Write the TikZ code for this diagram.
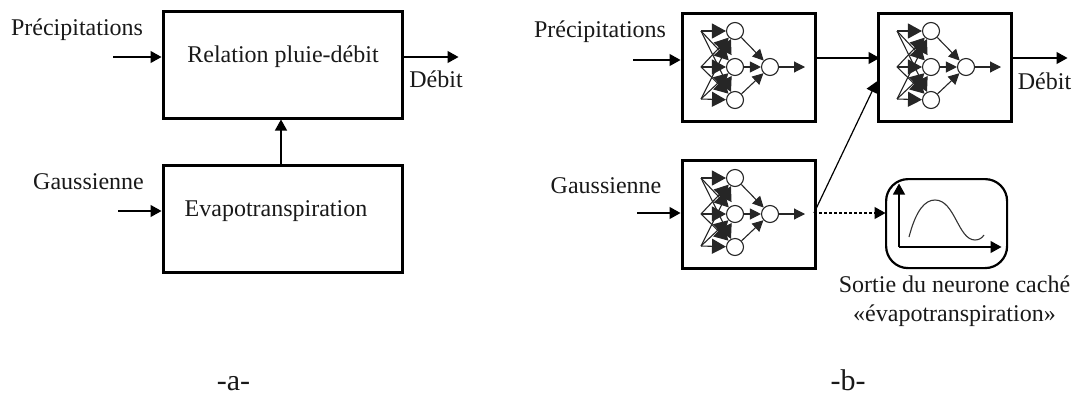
\documentclass[tikz,border=0pt]{standalone}
\usepackage{fontspec}
\setmainfont{Liberation Serif}
\usetikzlibrary{arrows.meta}
\tikzset{
  blk/.style={draw=black,line width=2.6pt,minimum width=#1,minimum height=107pt,inner sep=0pt,anchor=north west},
  lbl/.style={inner sep=0pt,font=\fontsize{24}{29}\selectfont,text=black!90,align=center},
  big/.style={inner sep=0pt,font=\fontsize{30}{34}\selectfont,text=black!90,anchor=base},
  conn/.style={line width=1.2pt,-{Triangle[length=11pt,width=12pt]},shorten >=0.5pt},
  netl/.style={line width=1.1pt,draw=black!85,-{Triangle[length=11pt,width=11pt]}},
  neti/.style={line width=1.1pt,draw=black!85,-{Triangle[length=14pt,width=15pt]}},
  neur/.style={circle,draw=black!85,line width=1.1pt,fill=white,minimum size=17pt,inner sep=0pt},
}
\newcommand{\neuralnet}[3]{% prefix, box left, box top
  \begin{scope}[shift={(#2,#3)}]
    \coordinate (#1i1) at (20,19);
    \coordinate (#1i2) at (20,55);
    \coordinate (#1i3) at (20,87);
    \node[neur] (#1h1) at (54,19) {};
    \node[neur] (#1h2) at (54,55) {};
    \node[neur] (#1h3) at (54,88) {};
    \node[neur] (#1o) at (89,55) {};
    \coordinate (#1t) at (124,55);
    \foreach \a in {1,2,3}{\foreach \b in {1,2,3}{\draw[neti] (#1i\a) -- (#1h\b);}}
    \foreach \b in {1,2,3}{\draw[netl] (#1h\b) -- (#1o);}
    \draw[netl] (#1o) -- (#1t);
  \end{scope}
}
\begin{document}
\begin{tikzpicture}[x=1pt,y=-1pt]
\useasboundingbox (0,0) rectangle (1075,394);
% panel a
\node[blk=239pt] (rel) at (162,10) {};
\node[blk=239pt] (eva) at (162,164) {};
\node[lbl] (relt) at (283,57) {Relation pluie-débit};
\node[lbl] (evat) at (276,211) {Evapotranspiration};
\node[lbl] (pa) at (77,30) {Précipitations};
\node[lbl] (ga) at (88.5,182) {Gaussienne};
\node[lbl] (da) at (436,79) {Débit};
\coordinate (pas) at (113,57);
\coordinate (pae) at (162,57);
\coordinate (gas) at (118,211);
\coordinate (gae) at (162,211);
\coordinate (das) at (401,57);
\coordinate (dae) at (459,57);
\coordinate (ups) at (281,164);
\coordinate (upe) at (281,119);
\draw[conn] (pas) -- (pae);
\draw[conn] (gas) -- (gae);
\draw[conn] (das) -- (dae);
\draw[conn] (ups) -- (upe);
\node[big] (mla) at (233.5,390) {-a-};
% panel b
\node[blk=133pt,minimum height=108pt] (n1) at (681,12) {};
\node[blk=133pt,minimum height=108pt] (n2) at (877,12) {};
\node[blk=133pt,minimum height=108pt] (n3) at (681,159) {};
\neuralnet{a}{681}{12}
\neuralnet{b}{877}{12}
\neuralnet{c}{681}{159}
\node[draw=black,line width=2.2pt,rounded corners=22pt,minimum width=121pt,minimum height=89pt,inner sep=0pt,anchor=north west] (plot) at (885,178) {};
\coordinate (org) at (899,247);
\coordinate (ytop) at (899,183);
\coordinate (xend) at (1002,247);
\draw[conn] (org) -- (ytop);
\draw[conn] (org) -- (xend);
\draw[line width=1.1pt,black!80] (909,237) .. controls (916,210) and (925,200) .. (935,200) .. controls (955,200) and (958,240) .. (975,240) .. controls (979,240) and (982,238) .. (984,235);
\node[lbl] (pb) at (600,32) {Précipitations};
\node[lbl] (gb) at (606,186) {Gaussienne};
\node[lbl] (db) at (1044.5,81) {Débit};
\node[lbl] (sortie) at (954.5,301) {Sortie du neurone caché\\«évapotranspiration»};
\node[big] (mlb) at (848,390) {-b-};
\coordinate (pbs) at (633,60);
\coordinate (gbs) at (637,213);
\coordinate (dbe) at (1068,58);
\coordinate (n2in) at (880,58);
\coordinate (n1out) at (814,58);
\coordinate (n2out) at (1010,58);
\coordinate (n3out) at (814,213);
\coordinate (n3in) at (681,213);
\coordinate (n1in) at (681,60);
\coordinate (n2low) at (877,81);
\coordinate (plotin) at (886,213);
\draw[conn] (pbs) -- (n1in);
\draw[conn] (gbs) -- (n3in);
\draw[conn] (n1out) -- (n2in);
\draw[conn] (n2out) -- (dbe);
\draw[conn] (n3out) -- (n2low);
\draw[conn,dash pattern=on 2.5pt off 2.5pt] (n3out) -- (plotin);
\end{tikzpicture}
\end{document}
